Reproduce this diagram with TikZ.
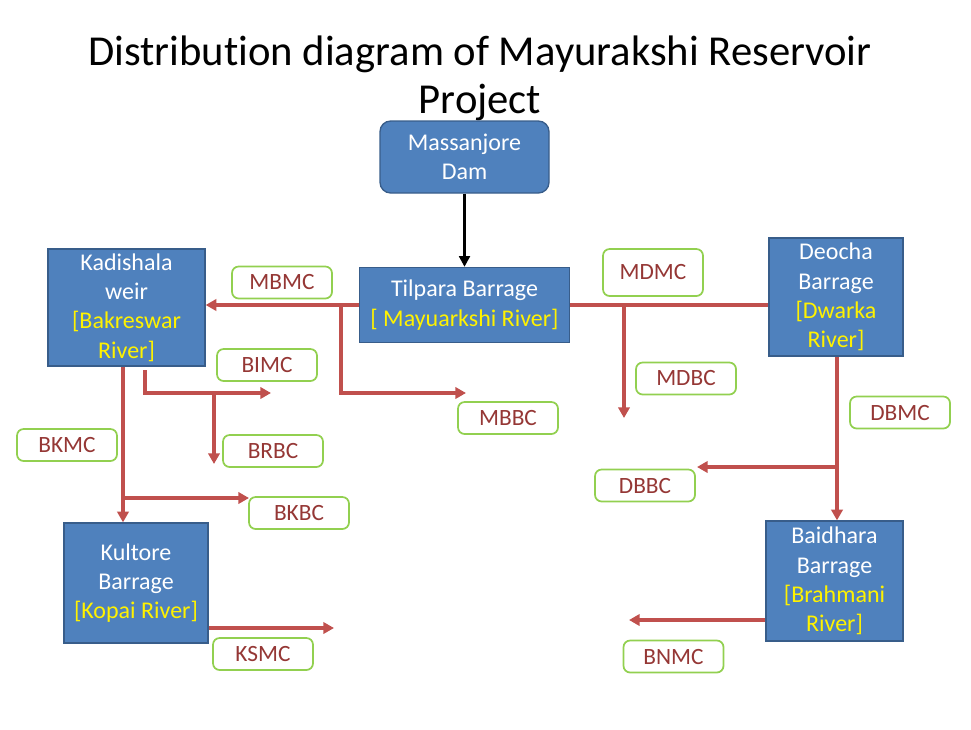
\documentclass[tikz,border=0pt]{standalone}
\usepackage{fontspec}
\setmainfont[Ligatures=NoCommon]{Carlito}
\usetikzlibrary{arrows.meta}
\definecolor{boxc}{HTML}{4F81BD}
\definecolor{bordc}{HTML}{385D8A}
\definecolor{redc}{HTML}{C0504D}
\definecolor{labg}{HTML}{92D050}
\definecolor{labr}{HTML}{953735}
\newcommand{\yl}[1]{\textcolor{yellow}{#1}}
\tikzset{
  bbox/.style={draw=bordc, fill=boxc, line width=1pt, text=white, align=center, inner sep=0pt,
    font=\fontsize{18}{22}\selectfont},
  lab/.style={draw=labg, fill=white, rounded corners=5pt, line width=1.3pt, text=labr, inner sep=0pt,
    font=\fontsize{17.5}{21.5}\selectfont, minimum width=75pt, minimum height=24pt},
  flow/.style={draw=redc, line width=2.3pt, -{Triangle[length=8pt,width=8.5pt]}},
  plain/.style={draw=redc, line width=2.3pt},
}
\begin{document}
\begin{tikzpicture}[x=0.75pt,y=-0.75pt]
\useasboundingbox (0,0) rectangle (971,729);
% title
\node[font=\fontsize{32}{36}\selectfont, align=center] (title) at (480,78) {Distribution diagram of Mayurakshi Reservoir\\Project};
% boxes
\node[bbox, rounded corners=8pt, minimum width={169*0.75pt}, minimum height={72*0.75pt}] (mas) at (464.5,157) {Massanjore\\Dam};
\node[bbox, minimum width={210*0.75pt}, minimum height={75*0.75pt}] (til) at (464.5,305) {Tilpara Barrage\\\yl{[ Mayuarkshi River]}};
\node[bbox, minimum width={157*0.75pt}, minimum height={117*0.75pt}] (kad) at (126.5,307.5) {Kadishala\\weir\\\yl{[Bakreswar}\\\yl{River]}};
\node[bbox, minimum width={134*0.75pt}, minimum height={118*0.75pt}] (deo) at (836,297) {Deocha\\Barrage\\\yl{[Dwarka}\\\yl{River]}};
\node[bbox, minimum width={144*0.75pt}, minimum height={120*0.75pt}] (kul) at (136,583) {Kultore\\Barrage\\\yl{[Kopai River]}};
\node[bbox, minimum width={137*0.75pt}, minimum height={120*0.75pt}] (bai) at (834.5,581) {Baidhara\\Barrage\\\yl{[Brahmani}\\\yl{River]}};
% labels
\node[lab] (mbmc) at (282,282.5) {MBMC};
\node[lab] (bimc) at (267,365) {BIMC};
\node[lab] (mbbc) at (508,418) {MBBC};
\node[lab, minimum height={47*0.75pt}] (mdmc) at (653,272.5) {MDMC};
\node[lab] (mdbc) at (686,378.5) {MDBC};
\node[lab] (dbmc) at (900,412.5) {DBMC};
\node[lab] (bkmc) at (67,445) {BKMC};
\node[lab] (brbc) at (273,451) {BRBC};
\node[lab] (bkbc) at (299,513) {BKBC};
\node[lab] (ksmc) at (263,654) {KSMC};
\node[lab] (dbbc) at (645,485.5) {DBBC};
\node[lab] (bnmc) at (673.5,656.5) {BNMC};
% coordinates
\coordinate (j1) at (341,305);
\coordinate (e1) at (466,393);
\coordinate (s2) at (145,370);
\coordinate (e2) at (271,393);
\coordinate (j2) at (214,393);
\coordinate (e3) at (214,464);
\coordinate (j3) at (123,498);
\coordinate (e4) at (249,498);
\coordinate (e5) at (334,628);
\coordinate (j4) at (624,305);
\coordinate (e6) at (624,418);
\coordinate (j5) at (837,467);
\coordinate (e7) at (697,467);
\coordinate (e8) at (629,620);
% connectors
\draw[-{Triangle[length=8pt,width=8pt]}, line width=2pt] (mas.south) -- (til.north);
\draw[flow] (til.west) -- (til.west -| kad.east);
\draw[flow] (j1) |- (e1);
\draw[flow] (s2) |- (e2);
\draw[flow] (j2) -- (e3);
\draw[flow] (kad.south -| j3) -- (kul.north -| j3);
\draw[flow] (j3) -- (e4);
\draw[flow] (kul.east |- e5) -- (e5);
\draw[plain] (til.east) -- (til.east -| deo.west);
\draw[flow] (j4) -- (e6);
\draw[flow] (deo.south -| j5) -- (bai.north -| j5);
\draw[flow] (j5) -- (e7);
\draw[flow] (bai.west |- e8) -- (e8);
\end{tikzpicture}
\end{document}
